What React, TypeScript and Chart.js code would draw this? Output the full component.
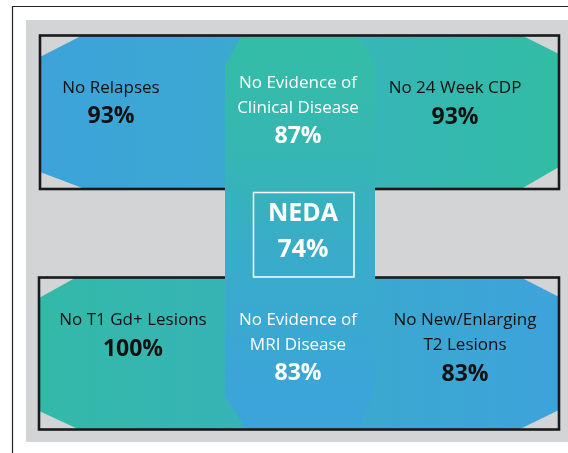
import React, { useEffect, useRef } from "react";
import { Chart, registerables } from "chart.js";

Chart.register(...registerables);

// ---- data ----
const outcomeLabels: string[][] = [
  ["No Relapses"],
  ["No Evidence of", "Clinical Disease"],
  ["No 24 Week CDP"],
  ["NEDA"],
  ["No T1 Gd+ Lesions"],
  ["No Evidence of", "MRI Disease"],
  ["No New/Enlarging", "T2 Lesions"],
];
const outcomePercents: number[] = [93, 87, 93, 74, 100, 83, 83];

const W = 568;
const H = 453;

type P = [number, number];

const diagramPlugin = {
  id: "nedaDiagram",
  beforeDraw(chart: any) {
    const ctx: CanvasRenderingContext2D = chart.ctx;
    const xs = chart.scales.x;
    const ys = chart.scales.y;
    const X = (v: number) => xs.getPixelForValue(v);
    const Y = (v: number) => ys.getPixelForValue(v);
    const poly = (pts: P[]) => {
      ctx.beginPath();
      pts.forEach(([a, b], i) => (i ? ctx.lineTo(X(a), Y(b)) : ctx.moveTo(X(a), Y(b))));
      ctx.closePath();
    };
    ctx.save();
    // white page
    ctx.fillStyle = "#ffffff";
    ctx.fillRect(0, 0, chart.width, chart.height);
    // outer frame lines
    ctx.strokeStyle = "#222";
    ctx.lineWidth = 1.2;
    ctx.beginPath();
    ctx.moveTo(X(12.5), Y(H));
    ctx.lineTo(X(12.5), Y(6.5));
    ctx.lineTo(X(W), Y(6.5));
    ctx.stroke();
    // gray panel
    ctx.fillStyle = "#d3d4d6";
    ctx.fillRect(X(26), Y(20), X(568) - X(26), Y(442) - Y(20));

    // top box
    let g = ctx.createLinearGradient(X(41), 0, X(559), 0);
    g.addColorStop(0, "#3da3da");
    g.addColorStop(0.35, "#3ba8d1");
    g.addColorStop(0.62, "#37b5b8");
    g.addColorStop(1, "#31bca3");
    ctx.fillStyle = g;
    poly([[81, 36], [523, 36], [559, 54], [559, 167], [521, 189], [85, 189], [40, 172], [40, 57]]);
    ctx.fill();
    // bottom box
    g = ctx.createLinearGradient(X(40), 0, X(559), 0);
    g.addColorStop(0, "#33b9a8");
    g.addColorStop(0.4, "#37b3b6");
    g.addColorStop(0.65, "#3ba8d0");
    g.addColorStop(1, "#3ea3db");
    ctx.fillStyle = g;
    poly([[75, 278], [522, 278], [559, 297], [559, 410], [520, 429], [78, 429], [39, 411], [39, 298]]);
    ctx.fill();

    // box borders
    ctx.strokeStyle = "#1a1a1a";
    ctx.lineWidth = 2.6;
    ctx.strokeRect(X(40), Y(35.5), X(559) - X(40), Y(189) - Y(35.5));
    ctx.strokeRect(X(39), Y(277.5), X(559) - X(39), Y(429.5) - Y(277.5));

    // central column
    g = ctx.createLinearGradient(0, Y(37), 0, Y(428));
    g.addColorStop(0, "#33bda5");
    g.addColorStop(0.3, "#36b6b3");
    g.addColorStop(0.55, "#39acc9");
    g.addColorStop(1, "#3ca3dc");
    ctx.fillStyle = g;
    poly([[241, 37], [357, 37], [375, 60], [375, 390], [359, 428], [245, 428], [225, 396], [225, 65]]);
    ctx.fill();

    // NEDA box outline
    ctx.strokeStyle = "#ffffff";
    ctx.lineWidth = 1.5;
    ctx.strokeRect(X(253.5), Y(192.5), X(354) - X(253.5), Y(277) - Y(192.5));

    // texts
    const font = "'Open Sans', 'Noto Sans', sans-serif";
    const spots: { x: number; y: number[]; color: string; lab: number; pct: number; bold?: boolean }[] = [
      { x: 111, y: [88, 116], color: "#111", lab: 17, pct: 23 },
      { x: 298, y: [83, 108, 136], color: "#ffffff", lab: 17, pct: 23 },
      { x: 455, y: [88, 117], color: "#111", lab: 17, pct: 23 },
      { x: 303, y: [214, 250], color: "#ffffff", lab: 25, pct: 25, bold: true },
      { x: 133, y: [320, 349], color: "#111", lab: 17, pct: 23 },
      { x: 298, y: [320, 345, 373], color: "#ffffff", lab: 17, pct: 23 },
      { x: 465, y: [320, 345, 374], color: "#111", lab: 17, pct: 23 },
    ];
    ctx.textAlign = "center";
    ctx.textBaseline = "middle";
    spots.forEach((s, i) => {
      ctx.fillStyle = s.color;
      const lines = outcomeLabels[i];
      ctx.font = `${s.bold ? "bold " : ""}${s.lab}px ${font}`;
      lines.forEach((t, k) => ctx.fillText(t, X(s.x), Y(s.y[k])));
      ctx.font = `bold ${s.pct}px ${font}`;
      ctx.fillText(`${outcomePercents[i]}%`, X(s.x), Y(s.y[lines.length]));
    });
    ctx.restore();
  },
};

export default function App() {
  const ref = useRef<HTMLCanvasElement | null>(null);
  useEffect(() => {
    if (!ref.current) return;
    const chart = new Chart(ref.current, {
      type: "scatter",
      data: {
        datasets: [
          {
            data: outcomePercents.map((p, i) => ({ x: 0, y: 0 })),
            pointRadius: 0,
            showLine: false,
          },
        ],
      },
      options: {
        responsive: false,
        animation: false,
        events: [],
        layout: { padding: 0 },
        plugins: { legend: { display: false }, tooltip: { enabled: false } },
        scales: {
          x: { type: "linear", min: 0, max: W, display: false },
          y: { type: "linear", min: 0, max: H, reverse: true, display: false },
        },
      },
      plugins: [diagramPlugin],
    });
    return () => chart.destroy();
  }, []);
  return (
    <div style={{ position: "absolute", left: 0, top: 0, width: W, height: H, background: "#fff" }}>
      <canvas ref={ref} width={W} height={H} style={{ display: "block", width: W, height: H }} />
    </div>
  );
}
